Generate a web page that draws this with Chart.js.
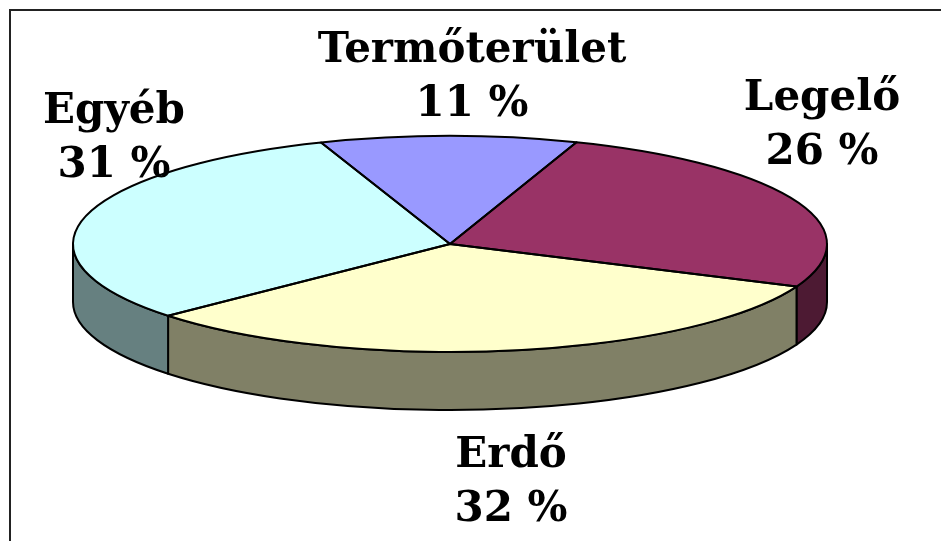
<!DOCTYPE html>
<html>
<head>
<meta charset="utf-8">
<script src="https://cdn.jsdelivr.net/npm/chart.js@4/dist/chart.umd.min.js"></script>
<style>
  html, body { margin: 0; padding: 0; background: #fff; }
  #wrap { position: relative; width: 941px; height: 541px; overflow: hidden; }
  #frame { position: absolute; left: 9px; top: 9px; right: -4px; bottom: -4px;
           border-left: 2px solid #222; border-top: 2px solid #222; }
  canvas { position: absolute; left: 0; top: 0; }
</style>
</head>
<body>
<div id="wrap">
  <canvas id="pie" width="941" height="541"></canvas>
  <div id="frame"></div>
</div>
<script>
    // land use shares (%)
    var categories = ['Termőterület', 'Legelő', 'Erdő', 'Egyéb'];
    var shares = [11, 26, 32, 31];
    var topColors = ['#9999FF', '#993366', '#FFFFCC', '#CCFFFF'];
    var sideColors = ['#4D4D80', '#4D1A33', '#808066', '#668080'];

    // tilt of the pie: top face is an ellipse, side is DEPTH px high
    var RX = 377, RY = 108, DEPTH = 58;
    // label anchors (centre x, first baseline)
    var labelPos = [[472, 62], [822, 110], [511, 467], [114, 123]];
    var LINE_GAP = 54;

    var TWO_PI = Math.PI * 2;

    function sidePart(ctx, cx, cy, a1, a2, color) {
        ctx.beginPath();
        ctx.ellipse(cx, cy, RX, RY, 0, a1, a2, false);
        ctx.lineTo(cx + RX * Math.cos(a2), cy + RY * Math.sin(a2) + DEPTH);
        ctx.ellipse(cx, cy + DEPTH, RX, RY, 0, a2, a1, true);
        ctx.closePath();
        ctx.fillStyle = color;
        ctx.fill();
        ctx.stroke();
    }

    var pie3d = {
        id: 'pie3d',
        beforeDatasetsDraw: function(chart) {
            var ctx = chart.ctx;
            var arcs = chart.getDatasetMeta(0).data;
            var cx = arcs[0].x, cy = arcs[0].y, R = arcs[0].outerRadius;

            // front wall of the disc
            ctx.save();
            ctx.lineWidth = 2;
            ctx.strokeStyle = '#000';
            ctx.lineJoin = 'round';
            arcs.forEach(function(arc, i) {
                var s = ((arc.startAngle % TWO_PI) + TWO_PI) % TWO_PI;
                var e = s + (arc.endAngle - arc.startAngle);
                [[0, Math.PI], [TWO_PI, TWO_PI + Math.PI]].forEach(function(win) {
                    var a1 = Math.max(s, win[0]), a2 = Math.min(e, win[1]);
                    if (a2 > a1 + 0.001) sidePart(ctx, cx, cy, a1, a2, sideColors[i]);
                });
            });
            ctx.restore();

            // squash the library's circle into the top ellipse
            ctx.save();
            ctx.translate(cx, cy);
            ctx.scale(RX / R, RY / R);
            ctx.translate(-cx, -cy);
        },
        afterDatasetsDraw: function(chart) {
            var ctx = chart.ctx;
            ctx.restore();
            var arcs = chart.getDatasetMeta(0).data;
            var cx = arcs[0].x, cy = arcs[0].y;

            ctx.save();
            ctx.lineWidth = 2;
            ctx.strokeStyle = '#000';
            ctx.lineJoin = 'round';
            arcs.forEach(function(arc) {
                ctx.beginPath();
                ctx.moveTo(cx, cy);
                ctx.ellipse(cx, cy, RX, RY, 0, arc.startAngle, arc.endAngle, false);
                ctx.closePath();
                ctx.stroke();
            });

            ctx.fillStyle = '#000';
            ctx.textAlign = 'center';
            ctx.textBaseline = 'alphabetic';
            ctx.font = 'bold 42px "DejaVu Serif"';
            categories.forEach(function(name, i) {
                var p = labelPos[i];
                ctx.fillText(name, p[0], p[1]);
                ctx.fillText(shares[i] + ' %', p[0], p[1] + LINE_GAP);
            });
            ctx.restore();
        }
    };

    var chart = new Chart(document.getElementById('pie'), {
        type: 'pie',
        data: {
            labels: categories,
            datasets: [{
                data: shares,
                backgroundColor: topColors,
                borderWidth: 0,
                clip: false
            }]
        },
        options: {
            responsive: false,
            animation: false,
            rotation: -20,
            layout: { padding: { left: 0, right: 41, top: 0, bottom: 53 } },
            plugins: {
                legend: { display: false },
                tooltip: { enabled: false }
            }
        },
        plugins: [pie3d]
    });
</script>
</body>
</html>
